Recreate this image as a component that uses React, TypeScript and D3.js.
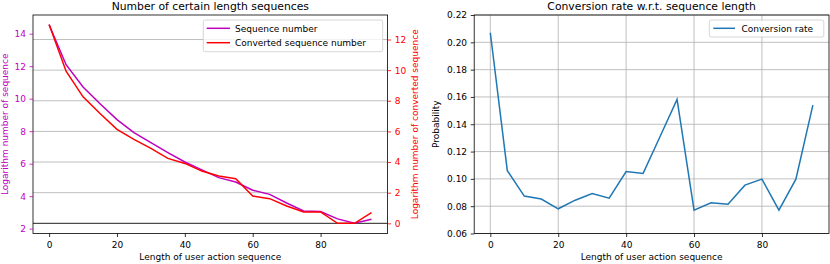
import React, { useEffect, useRef } from "react";
import * as d3 from "d3";

// x positions (sequence length buckets)
const lengths = [0, 5, 10, 15, 20, 25, 30, 35, 40, 45, 50, 55, 60, 65, 70, 75, 80, 85, 90, 95];

// log of number of sequences (left axis)
const seqLog = [14.55, 12.09, 10.72, 9.69, 8.71, 7.91, 7.29, 6.68, 6.1, 5.62, 5.14, 4.87, 4.36, 4.11, 3.58, 3.09, 3.05, 2.6, 2.33, 2.58];

// log of number of converted sequences (right axis)
const convLog = [12.98, 9.93, 8.26, 7.17, 6.13, 5.48, 4.89, 4.24, 3.91, 3.41, 3.09, 2.91, 1.78, 1.61, 1.13, 0.74, 0.74, 0, 0, 0.7];

// conversion rate per length
const convRate = [0.207, 0.106, 0.0874, 0.0852, 0.0781, 0.0844, 0.0893, 0.0859, 0.1054, 0.104, 0.131, 0.1582, 0.0771, 0.0825, 0.0815, 0.0954, 0.0998, 0.0771, 0.0998, 0.154];

const xTicks = [0, 20, 40, 60, 80];
const seqTicks = [2, 4, 6, 8, 10, 12, 14];
const convTicks = [0, 2, 4, 6, 8, 10, 12];
const rateTicks = [0.06, 0.08, 0.1, 0.12, 0.14, 0.16, 0.18, 0.2, 0.22];

const FONT = "DejaVu Sans";
const MAGENTA = "#bf00bf";
const RED = "#ff0000";
const BLUE = "#1f77b4";
const GRID = "#b0b0b0";

function App() {
    const svgRef = useRef<SVGSVGElement>(null);

    useEffect(() => {
        const width = 830;
        const height = 264;
        const top = 15;
        const bottom = 233.5;
        const tick = 3.5;

        const svg = d3.select(svgRef.current)
            .attr("width", width)
            .attr("height", height)
            .style("font-family", FONT);

        svg.selectAll("*").remove();

        const styleAxis = (g: any, color: string) => {
            g.select(".domain").remove();
            g.attr("font-family", FONT).attr("font-size", 9).attr("color", color);
            g.selectAll(".tick line").attr("stroke-width", 0.8);
        };

        // ---------- left panel ----------
        const lx0 = 33, lx1 = 387.6;
        const xL = d3.scaleLinear().domain([-4.75, 99.75]).range([lx0, lx1]);
        const ySeq = d3.scaleLinear().domain([1.7, 15.15]).range([bottom, top]);
        const yConv = d3.scaleLinear().domain([-0.665, 13.6]).range([bottom, top]);

        const left = svg.append("g");

        // grid from the twin (right) axis
        left.selectAll("line.grid")
            .data(convTicks.filter(t => t > 0))
            .enter()
            .append("line")
            .attr("x1", lx0).attr("x2", lx1)
            .attr("y1", d => yConv(d)).attr("y2", d => yConv(d))
            .attr("stroke", GRID).attr("stroke-width", 0.8);

        // zero line
        left.append("line")
            .attr("x1", lx0).attr("x2", lx1)
            .attr("y1", yConv(0)).attr("y2", yConv(0))
            .attr("stroke", "#222").attr("stroke-width", 1);

        const seqLine = d3.line<number>()
            .x((d, i) => xL(lengths[i]))
            .y(d => ySeq(d));
        const convLine = d3.line<number>()
            .x((d, i) => xL(lengths[i]))
            .y(d => yConv(d));

        left.append("path").attr("d", seqLine(seqLog)!)
            .attr("fill", "none").attr("stroke", MAGENTA).attr("stroke-width", 1.5);
        left.append("path").attr("d", convLine(convLog)!)
            .attr("fill", "none").attr("stroke", RED).attr("stroke-width", 1.5);

        left.append("rect")
            .attr("x", lx0).attr("y", top)
            .attr("width", lx1 - lx0).attr("height", bottom - top)
            .attr("fill", "none").attr("stroke", "black").attr("stroke-width", 0.8);

        left.append("g")
            .attr("transform", `translate(0,${bottom})`)
            .call(d3.axisBottom(xL).tickValues(xTicks).tickSize(tick).tickPadding(4.6))
            .call(g => styleAxis(g, "#000"));

        left.append("g")
            .attr("transform", `translate(${lx0},0)`)
            .call(d3.axisLeft(ySeq).tickValues(seqTicks).tickSize(tick).tickPadding(3.6))
            .call(g => styleAxis(g, MAGENTA));

        left.append("g")
            .attr("transform", `translate(${lx1},0)`)
            .call(d3.axisRight(yConv).tickValues(convTicks).tickSize(tick).tickPadding(3.6))
            .call(g => styleAxis(g, RED));

        left.append("text")
            .attr("x", (lx0 + lx1) / 2).attr("y", 9.5)
            .attr("text-anchor", "middle").attr("font-size", 10.8)
            .text("Number of certain length sequences");

        left.append("text")
            .attr("x", (lx0 + lx1) / 2).attr("y", 260)
            .attr("text-anchor", "middle").attr("font-size", 9)
            .text("Length of user action sequence");

        left.append("text")
            .attr("transform", `translate(8,${(top + bottom) / 2}) rotate(-90)`)
            .attr("text-anchor", "middle").attr("font-size", 9)
            .attr("fill", MAGENTA)
            .text("Logarithm number of sequence");

        left.append("text")
            .attr("transform", `translate(418,${(top + bottom) / 2}) rotate(-90)`)
            .attr("text-anchor", "middle").attr("font-size", 9)
            .attr("fill", RED)
            .text("Logarithm number of converted sequence");

        // legend
        const lg = left.append("g");
        lg.append("rect")
            .attr("x", 203.3).attr("y", 20).attr("width", 179.4).attr("height", 31.7)
            .attr("rx", 2).attr("fill", "white").attr("fill-opacity", 0.8)
            .attr("stroke", "#cccccc").attr("stroke-width", 0.8);
        [["Sequence number", MAGENTA, 28.3], ["Converted sequence number", RED, 42.7]].forEach(([label, color, y]) => {
            lg.append("line")
                .attr("x1", 206.7).attr("x2", 230)
                .attr("y1", y as number).attr("y2", y as number)
                .attr("stroke", color as string).attr("stroke-width", 1.5);
            lg.append("text")
                .attr("x", 235).attr("y", (y as number) + 3.3)
                .attr("font-size", 9)
                .text(label as string);
        });

        // ---------- right panel ----------
        const rx0 = 474.2, rx1 = 829;
        const xR = d3.scaleLinear().domain([-4.75, 99.75]).range([rx0, rx1]);
        const yRate = d3.scaleLinear().domain([0.06, 0.22]).range([bottom, top]);

        const right = svg.append("g");

        right.selectAll("line.hgrid")
            .data(rateTicks)
            .enter()
            .append("line")
            .attr("x1", rx0).attr("x2", rx1)
            .attr("y1", d => yRate(d)).attr("y2", d => yRate(d))
            .attr("stroke", GRID).attr("stroke-width", 0.8);

        right.selectAll("line.vgrid")
            .data(xTicks)
            .enter()
            .append("line")
            .attr("x1", d => xR(d)).attr("x2", d => xR(d))
            .attr("y1", top).attr("y2", bottom)
            .attr("stroke", GRID).attr("stroke-width", 0.8);

        const rateLine = d3.line<number>()
            .x((d, i) => xR(lengths[i]))
            .y(d => yRate(d));

        right.append("path").attr("d", rateLine(convRate)!)
            .attr("fill", "none").attr("stroke", BLUE).attr("stroke-width", 1.5);

        right.append("rect")
            .attr("x", rx0).attr("y", top)
            .attr("width", rx1 - rx0).attr("height", bottom - top)
            .attr("fill", "none").attr("stroke", "black").attr("stroke-width", 0.8);

        right.append("g")
            .attr("transform", `translate(0,${bottom})`)
            .call(d3.axisBottom(xR).tickValues(xTicks).tickSize(tick).tickPadding(4.6))
            .call(g => styleAxis(g, "#000"));

        right.append("g")
            .attr("transform", `translate(${rx0},0)`)
            .call(d3.axisLeft(yRate).tickValues(rateTicks).tickSize(tick).tickPadding(3.6)
                .tickFormat(d => (d as number).toFixed(2)))
            .call(g => styleAxis(g, "#000"));

        right.append("text")
            .attr("x", (rx0 + rx1) / 2).attr("y", 9.5)
            .attr("text-anchor", "middle").attr("font-size", 10.8)
            .text("Conversion rate w.r.t. sequence length");

        right.append("text")
            .attr("x", (rx0 + rx1) / 2).attr("y", 260)
            .attr("text-anchor", "middle").attr("font-size", 9)
            .text("Length of user action sequence");

        right.append("text")
            .attr("transform", `translate(439,${(top + bottom) / 2}) rotate(-90)`)
            .attr("text-anchor", "middle").attr("font-size", 9)
            .text("Probability");

        const rg = right.append("g");
        rg.append("rect")
            .attr("x", 709.3).attr("y", 20).attr("width", 114.5).attr("height", 17)
            .attr("rx", 2).attr("fill", "white").attr("fill-opacity", 0.8)
            .attr("stroke", "#cccccc").attr("stroke-width", 0.8);
        rg.append("line")
            .attr("x1", 713.3).attr("x2", 735).attr("y1", 28.3).attr("y2", 28.3)
            .attr("stroke", BLUE).attr("stroke-width", 1.5);
        rg.append("text")
            .attr("x", 741.5).attr("y", 31.6).attr("font-size", 9)
            .text("Conversion rate");
    }, []);

    return (
        <svg ref={svgRef} style={{ position: "absolute", left: 0, top: 0, background: "white" }}></svg>
    );
}

export default App;
